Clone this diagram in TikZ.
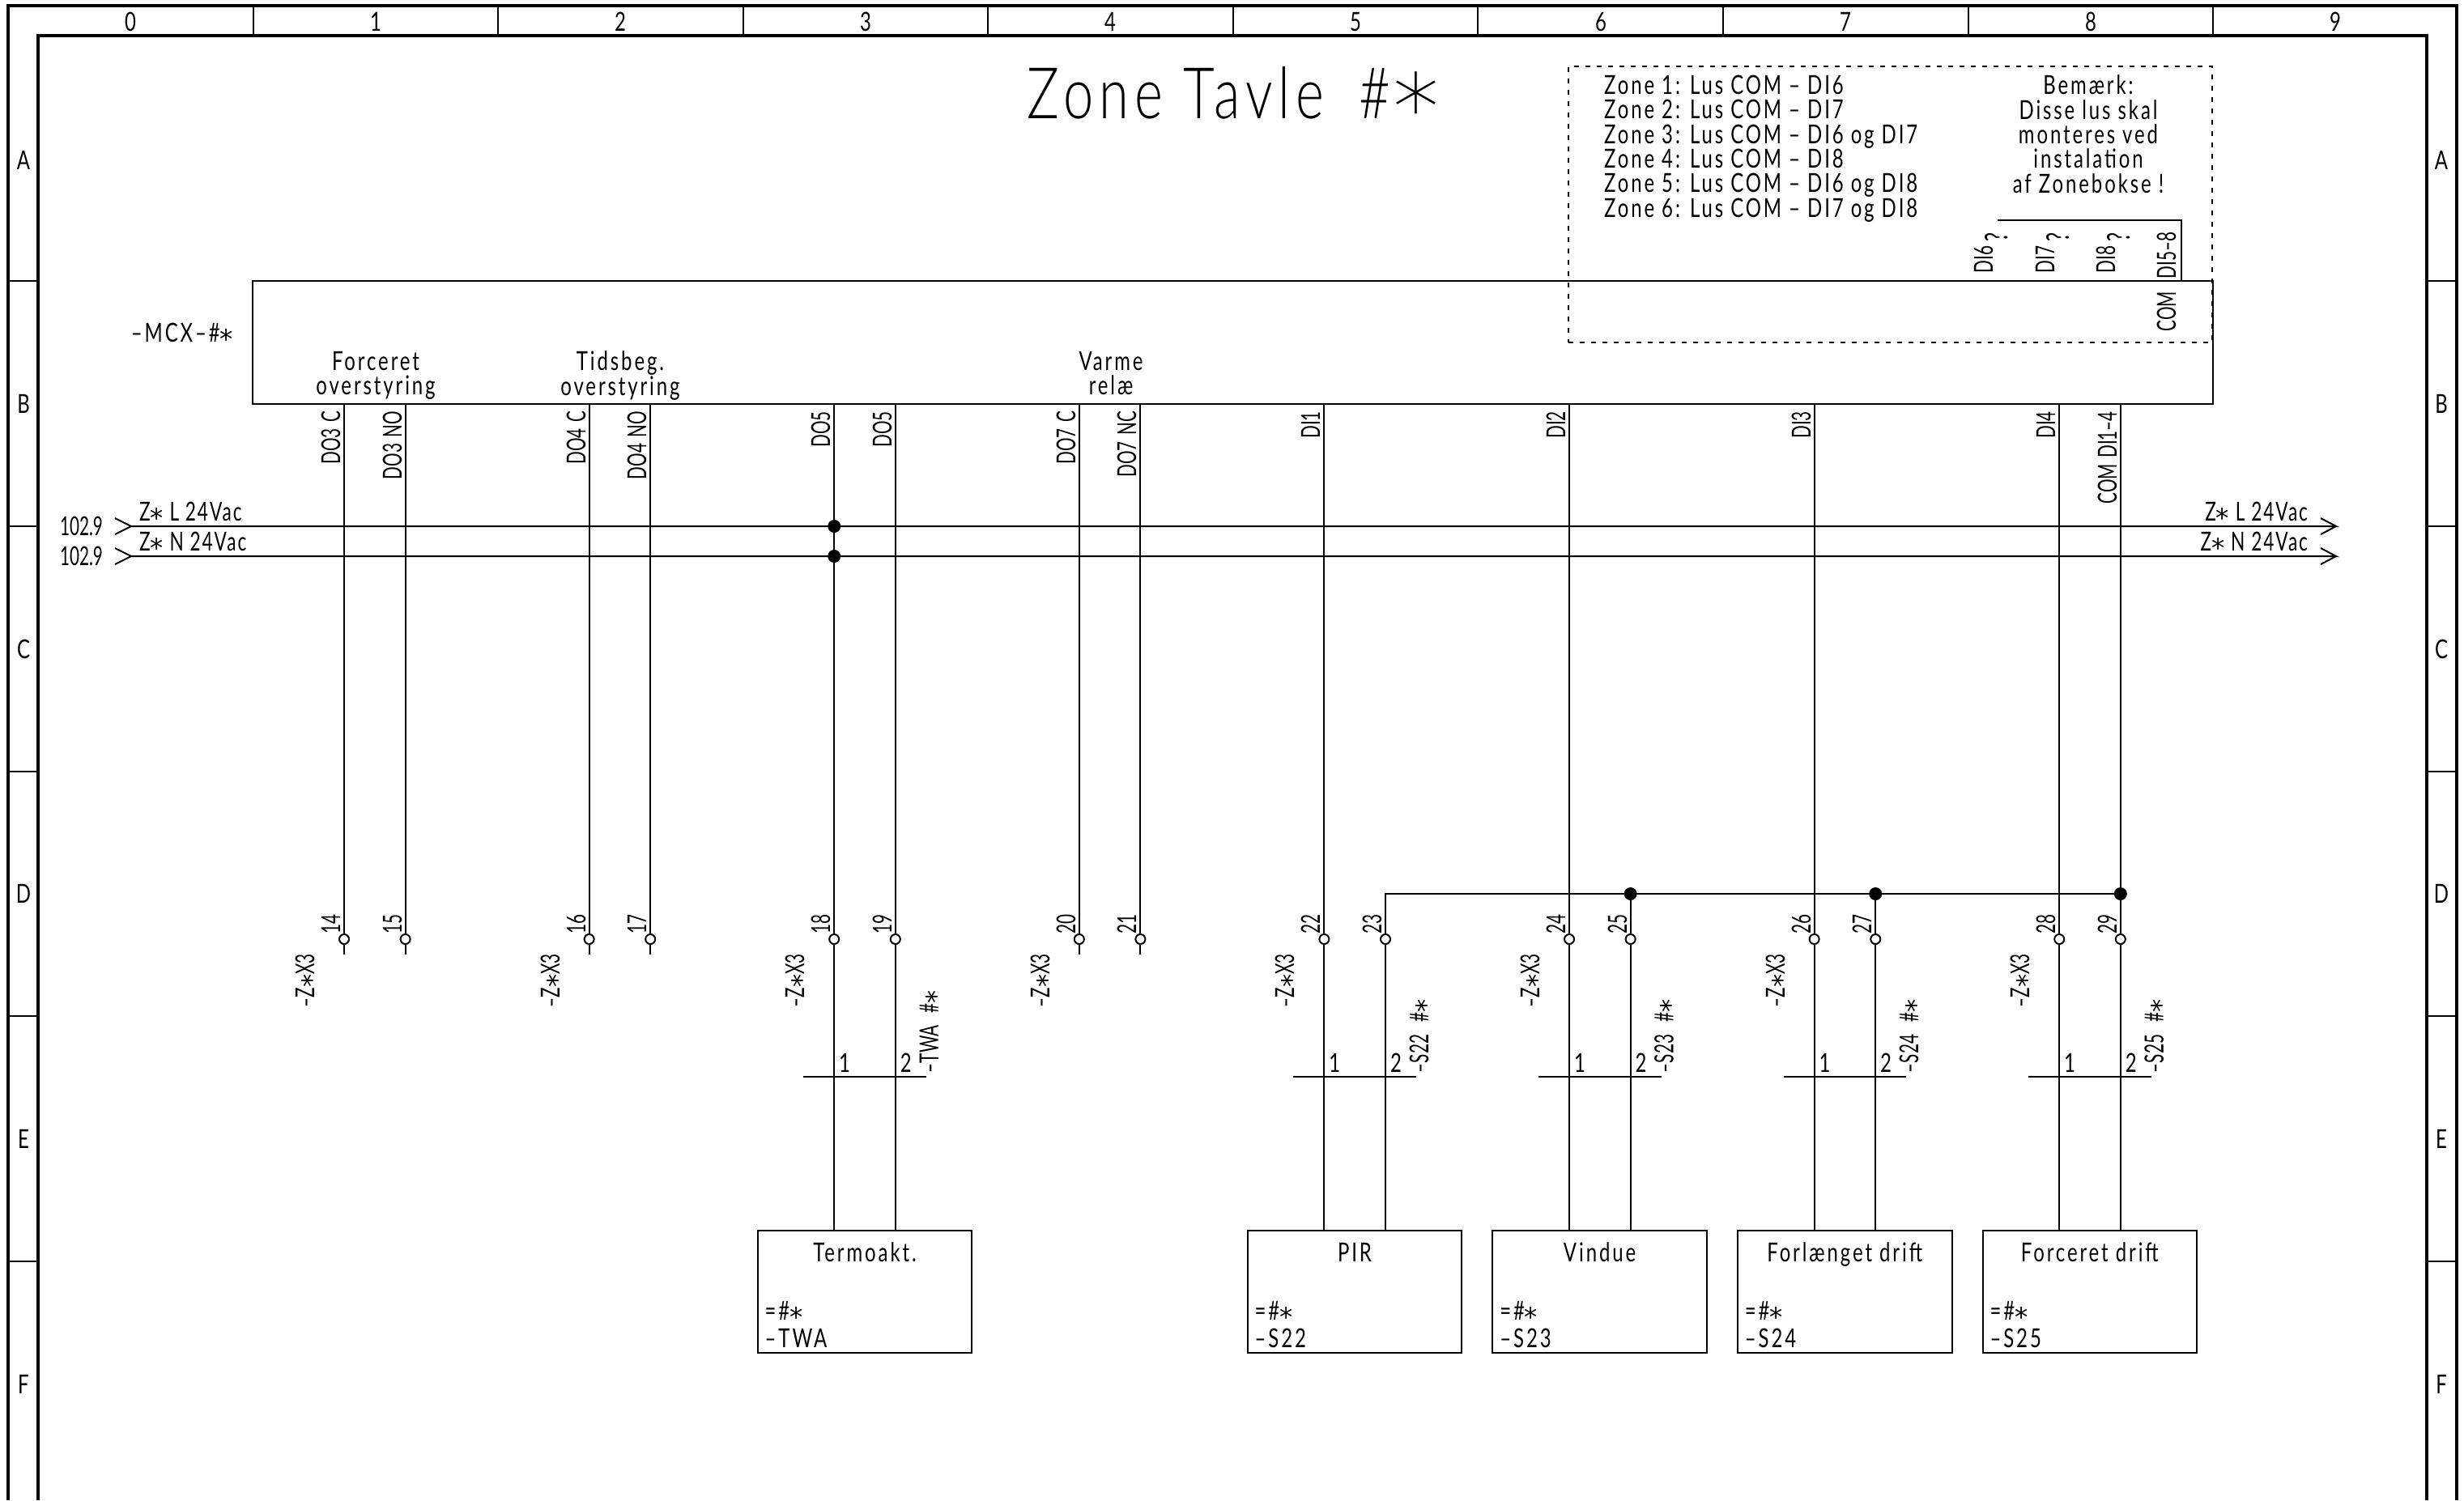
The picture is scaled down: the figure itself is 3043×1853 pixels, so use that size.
\documentclass[tikz,border=0pt]{standalone}
\usepackage{fontspec}
\setmainfont[FakeStretch=0.64,WordSpace=1.4]{Lato}
\newfontfamily\widefont[FakeStretch=0.74,LetterSpace=9]{Lato}
\newfontfamily\midfont[FakeStretch=0.7,LetterSpace=6]{Lato}
\newfontfamily\titlefont[FakeStretch=0.76,LetterSpace=8]{Lato Light}
\newfontfamily\starfont{DejaVu Sans}
\newfontfamily\titlestar[Scale=1.3]{DejaVu Sans ExtraLight}
\usetikzlibrary{calc}
\newcommand{\zast}{\smash{\raisebox{-.5ex}{\starfont *}}}
\tikzset{
	thin line/.style={line width=0.02cm},
	thick line/.style={line width=0.04cm},
	txt/.style={inner sep=0pt, text depth=0pt, font=\widefont\fontsize{9.2}{8.62}\selectfont},
	railtxt/.style={txt, font=\midfont\fontsize{9.2}{8.62}\selectfont},
	reftxt/.style={txt, font=\normalfont\fontsize{9.2}{8.62}\selectfont, anchor=east},
	uptag/.style={inner sep=0pt, text depth=0pt, font=\normalfont\fontsize{9.2}{8.62}\selectfont, rotate=90, anchor=south east},
	uptagb/.style={uptag, anchor=south west},
	term/.style={circle, draw, thin line, fill=white, inner sep=0pt, minimum size=0.12cm},
	dot/.style={circle, fill=black, inner sep=0pt, minimum size=0.16cm},
	unit/.style={draw, thin line, minimum width=2.645cm, minimum height=1.51cm},
	unitname/.style={txt, anchor=north},
	unittag/.style={txt, anchor=south west, align=left}
}
\begin{document}
\begin{tikzpicture}[x=0.01cm, y=-0.01cm, thin line]
		%%%%% START %%%%%
		\useasboundingbox (0, 0) rectangle (3043, 1853);
		
		% frame
		\draw[thick line] (10, 1853) -- (10, 7) -- (3034, 7) -- (3034, 1853);
		\draw[thick line] (47, 1853) -- (47, 44) -- (2997, 44) -- (2997, 1853);
		\draw (312.5, 7) -- (312.5, 44);
		\draw (615, 7) -- (615, 44);
		\draw (917.6, 7) -- (917.6, 44);
		\draw (1220.2, 7) -- (1220.2, 44);
		\draw (1522.8, 7) -- (1522.8, 44);
		\draw (1825.4, 7) -- (1825.4, 44);
		\draw (2128, 7) -- (2128, 44);
		\draw (2430.6, 7) -- (2430.6, 44);
		\draw (2733.2, 7) -- (2733.2, 44);
		\draw (10, 347) -- (47, 347);
		\draw (10, 650) -- (47, 650);
		\draw (10, 953) -- (47, 953);
		\draw (10, 1255) -- (47, 1255);
		\draw (10, 1558) -- (47, 1558);
		\draw (2997, 347) -- (3034, 347);
		\draw (2997, 650) -- (3034, 650);
		\draw (2997, 953) -- (3034, 953);
		\draw (2997, 1255) -- (3034, 1255);
		\draw (2997, 1558) -- (3034, 1558);
		\node[txt] (col0) at (161, 27) {0};
		\node[txt] (col1) at (464, 27) {1};
		\node[txt] (col2) at (766, 27) {2};
		\node[txt] (col3) at (1069, 27) {3};
		\node[txt] (col4) at (1371, 27) {4};
		\node[txt] (col5) at (1674, 27) {5};
		\node[txt] (col6) at (1977, 27) {6};
		\node[txt] (col7) at (2279, 27) {7};
		\node[txt] (col8) at (2582, 27) {8};
		\node[txt] (col9) at (2884, 27) {9};
		\node[txt] (rowAl) at (29, 198) {A};
		\node[txt] (rowBl) at (29, 499) {B};
		\node[txt] (rowCl) at (29, 802) {C};
		\node[txt] (rowDl) at (29, 1104) {D};
		\node[txt] (rowEl) at (29, 1407) {E};
		\node[txt] (rowFl) at (29, 1710) {F};
		\node[txt] (rowAr) at (3015, 198) {A};
		\node[txt] (rowBr) at (3015, 499) {B};
		\node[txt] (rowCr) at (3015, 802) {C};
		\node[txt] (rowDr) at (3015, 1104) {D};
		\node[txt] (rowEr) at (3015, 1407) {E};
		\node[txt] (rowFr) at (3015, 1710) {F};
		
		\node[inner sep=0pt, font=\titlefont\fontsize{25}{25}\selectfont] (title) at (1523, 128) {Zone Tavle\hspace{5pt} \#\hspace{1pt}\raisebox{-.62ex}{\titlestar *}};
		
		% zone note
		\node[draw, thin line, dash pattern=on 0.06cm off 0.08cm, minimum width=7.95cm, minimum height=3.41cm] (note) at (2334.5, 252.5) {};
		\node[txt, anchor=north west, align=left] (zones) at (1980, 92) {Zone 1: Lus COM – DI6\\Zone 2: Lus COM – DI7\\Zone 3: Lus COM – DI6 og DI7\\Zone 4: Lus COM – DI8\\Zone 5: Lus COM – DI6 og DI8\\Zone 6: Lus COM – DI7 og DI8};
		\node[txt, anchor=north, align=center] (remark) at (2579, 92) {Bemærk:\\Disse lus skal\\monteres ved\\instalation\\af Zonebokse !};
		
		% controller
		\node[draw, thin line, minimum width=24.2cm, minimum height=1.514cm] (mcx) at (1522.5, 423) {};
		\node[txt, anchor=east] (mcxname) at (289, 411) {–MCX–\#\zast};
		\node[txt, align=center] (force) at (464, 461) {Forceret\\overstyring};
		\node[txt, align=center] (tids) at (766, 461) {Tidsbeg.\\overstyring};
		\node[txt, align=center] (varme) at (1372, 461) {Varme\\relæ};
		\node[uptagb] (di6) at (2462, 338) {DI6\hspace{1.5pt}\raisebox{-1.1ex}{\fontsize{11}{11}\selectfont ?}};
		\node[uptagb] (di7) at (2538, 338) {DI7\hspace{1.5pt}\raisebox{-1.1ex}{\fontsize{11}{11}\selectfont ?}};
		\node[uptagb] (di8) at (2613, 338) {DI8\hspace{1.5pt}\raisebox{-1.1ex}{\fontsize{11}{11}\selectfont ?}};
		\node[uptagb] (di58) at (2688, 345) {DI5–8};
		\node[uptag] (com) at (2688, 359) {COM};
		\coordinate (lusa) at (2467, 272);
		\coordinate (lusb) at (2694, 272);
		\draw (lusa) -- (lusb) -- (lusb |- mcx.north);
		
		% supply rails
		\coordinate (rail1a) at (162, 650);
		\coordinate (rail1b) at (2885, 650);
		\coordinate (rail2a) at (162, 687);
		\coordinate (rail2b) at (2885, 687);
		\draw (rail1a) -- (rail1b) -- ++(-19, -10);
		\draw (rail1b) -- ++(-19, 10);
		\draw (rail2a) -- (rail2b) -- ++(-19, -10);
		\draw (rail2b) -- ++(-19, 10);
		\draw (rail1a) -- ++(-20, -10);
		\draw (rail1a) -- ++(-20, 10);
		\draw (rail2a) -- ++(-20, -10);
		\draw (rail2a) -- ++(-20, 10);
		\node[reftxt] (ref1) at (128, 650) {102.9};
		\node[reftxt] (ref2) at (128, 687) {102.9};
		\node[railtxt, anchor=south west] (rail1l) at (171, 644) {Z\zast\ L 24Vac};
		\node[railtxt, anchor=south west] (rail2l) at (171, 681) {Z\zast\ N 24Vac};
		\node[railtxt, anchor=south east] (rail1r) at (2851, 644) {Z\zast\ L 24Vac};
		\node[railtxt, anchor=south east] (rail2r) at (2851, 681) {Z\zast\ N 24Vac};
		
		% terminals
		\node[term] (t14) at (425, 1160) {};
		\node[term] (t15) at (500.6, 1160) {};
		\node[term] (t16) at (727.6, 1160) {};
		\node[term] (t17) at (803.2, 1160) {};
		\node[term] (t18) at (1030.2, 1160) {};
		\node[term] (t19) at (1105.8, 1160) {};
		\node[term] (t20) at (1332.8, 1160) {};
		\node[term] (t21) at (1408.4, 1160) {};
		\node[term] (t22) at (1635.4, 1160) {};
		\node[term] (t23) at (1711, 1160) {};
		\node[term] (t24) at (1938, 1160) {};
		\node[term] (t25) at (2013.6, 1160) {};
		\node[term] (t26) at (2240.6, 1160) {};
		\node[term] (t27) at (2316.2, 1160) {};
		\node[term] (t28) at (2543.2, 1160) {};
		\node[term] (t29) at (2618.8, 1160) {};
		\node[uptag] (n14) at (421, 1128) {14};
		\node[uptag] (n15) at (497, 1128) {15};
		\node[uptag] (n16) at (724, 1128) {16};
		\node[uptag] (n17) at (799, 1128) {17};
		\node[uptag] (n18) at (1026, 1128) {18};
		\node[uptag] (n19) at (1102, 1128) {19};
		\node[uptag] (n20) at (1329, 1128) {20};
		\node[uptag] (n21) at (1404, 1128) {21};
		\node[uptag] (n22) at (1631, 1128) {22};
		\node[uptag] (n23) at (1707, 1128) {23};
		\node[uptag] (n24) at (1934, 1128) {24};
		\node[uptag] (n25) at (2010, 1128) {25};
		\node[uptag] (n26) at (2237, 1128) {26};
		\node[uptag] (n27) at (2312, 1128) {27};
		\node[uptag] (n28) at (2539, 1128) {28};
		\node[uptag] (n29) at (2615, 1128) {29};
		\node[uptag] (x14) at (389, 1177) {–Z\zast X3};
		\node[uptag] (x16) at (692, 1177) {–Z\zast X3};
		\node[uptag] (x18) at (994, 1177) {–Z\zast X3};
		\node[uptag] (x20) at (1297, 1177) {–Z\zast X3};
		\node[uptag] (x22) at (1599, 1177) {–Z\zast X3};
		\node[uptag] (x24) at (1902, 1177) {–Z\zast X3};
		\node[uptag] (x26) at (2205, 1177) {–Z\zast X3};
		\node[uptag] (x28) at (2507, 1177) {–Z\zast X3};
		
		% signal names at the controller
		\node[uptag] (do3c) at (421, 507) {DO3 C};
		\node[uptag] (do3no) at (497, 507) {DO3 NO};
		\node[uptag] (do4c) at (724, 507) {DO4 C};
		\node[uptag] (do4no) at (799, 507) {DO4 NO};
		\node[uptag] (do5a) at (1026, 507) {DO5};
		\node[uptag] (do5b) at (1102, 507) {DO5};
		\node[uptag] (do7c) at (1329, 507) {DO7 C};
		\node[uptag] (do7nc) at (1404, 507) {DO7 NC};
		\node[uptag] (di1) at (1631, 507) {DI1};
		\node[uptag] (di2) at (1934, 507) {DI2};
		\node[uptag] (di3) at (2237, 507) {DI3};
		\node[uptag] (di4) at (2539, 507) {DI4};
		\node[uptag] (comdi) at (2615, 507) {COM DI1–4};
		
		% units
		\node[unit] (twa) at (1068, 1595.5) {};
		\node[unit] (s22) at (1673, 1595.5) {};
		\node[unit] (s23) at (1975.6, 1595.5) {};
		\node[unit] (s24) at (2278.2, 1595.5) {};
		\node[unit] (s25) at (2580.8, 1595.5) {};
		\node[unitname] (twaname) at ($(twa.north)+(0, 15)$) {Termoakt.};
		\node[unitname] (s22name) at ($(s22.north)+(0, 15)$) {PIR};
		\node[unitname] (s23name) at ($(s23.north)+(0, 15)$) {Vindue};
		\node[unitname] (s24name) at ($(s24.north)+(0, 15)$) {Forlænget drift};
		\node[unitname] (s25name) at ($(s25.north)+(0, 15)$) {Forceret drift};
		\node[unittag] (twatag) at ($(twa.south west)+(9, -7)$) {=\#\zast\\[1pt]–TWA};
		\node[unittag] (s22tag) at ($(s22.south west)+(9, -7)$) {=\#\zast\\[1pt]–S22};
		\node[unittag] (s23tag) at ($(s23.south west)+(9, -7)$) {=\#\zast\\[1pt]–S23};
		\node[unittag] (s24tag) at ($(s24.south west)+(9, -7)$) {=\#\zast\\[1pt]–S24};
		\node[unittag] (s25tag) at ($(s25.south west)+(9, -7)$) {=\#\zast\\[1pt]–S25};
		
		% wires from the controller
		\draw (t14 |- mcx.south) -- (t14);
		\draw (t14) -- ++(0, 19);
		\draw (t15 |- mcx.south) -- (t15);
		\draw (t15) -- ++(0, 19);
		\draw (t16 |- mcx.south) -- (t16);
		\draw (t16) -- ++(0, 19);
		\draw (t17 |- mcx.south) -- (t17);
		\draw (t17) -- ++(0, 19);
		\draw (t20 |- mcx.south) -- (t20);
		\draw (t20) -- ++(0, 19);
		\draw (t21 |- mcx.south) -- (t21);
		\draw (t21) -- ++(0, 19);
		\draw (t18 |- mcx.south) -- (t18);
		\draw (t19 |- mcx.south) -- (t19);
		\draw (t22 |- mcx.south) -- (t22);
		\draw (t24 |- mcx.south) -- (t24);
		\draw (t26 |- mcx.south) -- (t26);
		\draw (t28 |- mcx.south) -- (t28);
		\draw (t29 |- mcx.south) -- (t29);
		
		% wires to the units
		\draw (t18) -- (t18 |- twa.north);
		\draw (t19) -- (t19 |- twa.north);
		\draw (t22) -- (t22 |- s22.north);
		\draw (t23) -- (t23 |- s22.north);
		\draw (t24) -- (t24 |- s23.north);
		\draw (t25) -- (t25 |- s23.north);
		\draw (t26) -- (t26 |- s24.north);
		\draw (t27) -- (t27 |- s24.north);
		\draw (t28) -- (t28 |- s25.north);
		\draw (t29) -- (t29 |- s25.north);
		
		% common bar
		\coordinate (bus) at (1711, 1104);
		\draw (t23) -- (bus) -- (bus -| t29);
		\draw (t25) -- (t25 |- bus);
		\draw (t27) -- (t27 |- bus);
		\node[dot] (j25) at (t25 |- bus) {};
		\node[dot] (j27) at (t27 |- bus) {};
		\node[dot] (j29) at (t29 |- bus) {};
		\node[dot] (j1) at (t18 |- rail1a) {};
		\node[dot] (j2) at (t18 |- rail2a) {};
		
		% cable marks
		\draw ($(t18)+(-38, 170)$) -- ($(t19)+(38, 170)$);
		\draw ($(t22)+(-38, 170)$) -- ($(t23)+(38, 170)$);
		\draw ($(t24)+(-38, 170)$) -- ($(t25)+(38, 170)$);
		\draw ($(t26)+(-38, 170)$) -- ($(t27)+(38, 170)$);
		\draw ($(t28)+(-38, 170)$) -- ($(t29)+(38, 170)$);
		\node[txt, anchor=south west] (a1) at ($(t18)+(5, 165)$) {1};
		\node[txt, anchor=south west] (a2) at ($(t19)+(5, 165)$) {2};
		\node[txt, anchor=south west] (b1) at ($(t22)+(5, 165)$) {1};
		\node[txt, anchor=south west] (b2) at ($(t23)+(5, 165)$) {2};
		\node[txt, anchor=south west] (c1) at ($(t24)+(5, 165)$) {1};
		\node[txt, anchor=south west] (c2) at ($(t25)+(5, 165)$) {2};
		\node[txt, anchor=south west] (d1) at ($(t26)+(5, 165)$) {1};
		\node[txt, anchor=south west] (d2) at ($(t27)+(5, 165)$) {2};
		\node[txt, anchor=south west] (e1) at ($(t28)+(5, 165)$) {1};
		\node[txt, anchor=south west] (e2) at ($(t29)+(5, 165)$) {2};
		\node[uptagb] (twamark) at ($(t19)+(54, 166)$) {–TWA\ \ \#\zast};
		\node[uptagb] (s22mark) at ($(t23)+(54, 166)$) {–S22\ \ \#\zast};
		\node[uptagb] (s23mark) at ($(t25)+(54, 166)$) {–S23\ \ \#\zast};
		\node[uptagb] (s24mark) at ($(t27)+(54, 166)$) {–S24\ \ \#\zast};
		\node[uptagb] (s25mark) at ($(t29)+(54, 166)$) {–S25\ \ \#\zast};
		
		%%%%% END %%%%%
	\end{tikzpicture}
\end{document}
